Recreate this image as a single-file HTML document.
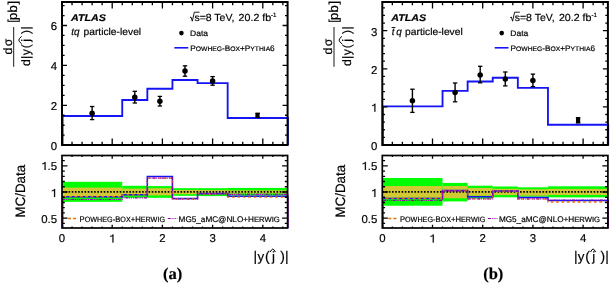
<!DOCTYPE html>
<html><head><meta charset="utf-8"><style>
html,body{margin:0;padding:0;background:#fff;}
svg{display:block;will-change:transform;}
text{font-family:"Liberation Sans", sans-serif;fill:#000;text-rendering:geometricPrecision;stroke:#000;stroke-width:0.18px;}
.tl{font-size:11.4px;}
.atlas{font-size:9.7px;font-weight:bold;font-style:italic;}
.lab{font-size:10px;}
.lab2{font-size:10.3px;}
.sup{font-size:6.1px;}
.leg{font-size:8px;}
.leg2{font-size:8.1px;}
.sc{font-size:6.6px;}
.sc2{font-size:7.6px;}
.xt{font-size:13.3px;}
.xt2{font-size:13.9px;}
.yt{font-size:12.2px;}
.yt2{font-size:13px;}
.sub{font-family:"Liberation Serif", serif;font-size:16.5px;font-weight:bold;}
</style></head>
<body><svg width="610" height="283" viewBox="0 0 610 283" xmlns="http://www.w3.org/2000/svg">
<rect width="610" height="283" fill="#fff"/>
<rect x="62" y="181.8" width="60.24" height="20" fill="#00ff00"/>
<rect x="62" y="187.6" width="60.24" height="8.6" fill="#d0c934"/>
<rect x="122.24" y="185.8" width="25.1" height="12" fill="#00ff00"/>
<rect x="122.24" y="188.6" width="25.1" height="6" fill="#d0c934"/>
<rect x="147.34" y="186.1" width="25.1" height="11.7" fill="#00ff00"/>
<rect x="147.34" y="188.2" width="25.1" height="7.2" fill="#d0c934"/>
<rect x="172.44" y="188.2" width="25.1" height="7.6" fill="#00ff00"/>
<rect x="172.44" y="190" width="25.1" height="4.2" fill="#d0c934"/>
<rect x="197.54" y="188.2" width="30.12" height="7.9" fill="#00ff00"/>
<rect x="197.54" y="190.1" width="30.12" height="3.5" fill="#d0c934"/>
<rect x="227.66" y="187.9" width="60.24" height="7.7" fill="#00ff00"/>
<rect x="227.66" y="190.4" width="60.24" height="3.1" fill="#d0c934"/>
<line x1="62.15" y1="191.9" x2="287.6" y2="191.9" stroke="#000" stroke-width="1.6" stroke-dasharray="1.6 1.6"/>
<path d="M62.6 228 L62.6 196.7 L62.6 196.7 L122.24 196.7 L122.24 194.8 L147.34 194.8 L147.34 176.4 L172.44 176.4 L172.44 198.5 L197.54 198.5 L197.54 193.6 L227.66 193.6 L227.66 196.3 L287.9 196.3 L287.9 228" fill="none" stroke="#1414f5" stroke-width="1.5"/>
<path d="M62.6 228 L62.6 196.7 L62.6 196.7 L122.24 196.7 L122.24 194.8 L147.34 194.8 L147.34 178.2 L172.44 178.2 L172.44 199 L197.54 199 L197.54 193.9 L227.66 193.9 L227.66 197.2 L287.9 197.2 L287.9 228" fill="none" stroke="#e8700c" stroke-width="1.3" stroke-dasharray="2.7 2.7"/>
<path d="M62.6 228 L62.6 199.5 L62.6 199.5 L122.24 199.5 L122.24 197.8 L147.34 197.8 L147.34 178.2 L172.44 178.2 L172.44 199 L197.54 199 L197.54 193.9 L227.66 193.9 L227.66 194.3 L287.9 194.3 L287.9 228" fill="none" stroke="#9a00b0" stroke-width="1.2" stroke-dasharray="3 0.9 0.9 0.9 0.9 0.9 0.9 0.9"/>
<path d="M62.6 145 L62.6 116 L62.6 116 L122.24 116 L122.24 100 L147.34 100 L147.34 88.7 L172.44 88.7 L172.44 80 L197.54 80 L197.54 83.1 L227.66 83.1 L227.66 118 L287.9 118 L287.9 145" fill="none" stroke="#1414f5" stroke-width="1.85"/>
<line x1="92.12" y1="106.5" x2="92.12" y2="119.6" stroke="#000" stroke-width="1.4"/>
<line x1="89.92" y1="106.5" x2="94.32" y2="106.5" stroke="#000" stroke-width="1.3"/>
<line x1="89.92" y1="119.6" x2="94.32" y2="119.6" stroke="#000" stroke-width="1.3"/>
<circle cx="92.12" cy="113.2" r="2.75" fill="#000"/>
<line x1="134.79" y1="91.3" x2="134.79" y2="103" stroke="#000" stroke-width="1.4"/>
<line x1="132.59" y1="91.3" x2="136.99" y2="91.3" stroke="#000" stroke-width="1.3"/>
<line x1="132.59" y1="103" x2="136.99" y2="103" stroke="#000" stroke-width="1.3"/>
<circle cx="134.79" cy="97.2" r="2.75" fill="#000"/>
<line x1="159.89" y1="96.4" x2="159.89" y2="106" stroke="#000" stroke-width="1.4"/>
<line x1="157.69" y1="96.4" x2="162.09" y2="96.4" stroke="#000" stroke-width="1.3"/>
<line x1="157.69" y1="106" x2="162.09" y2="106" stroke="#000" stroke-width="1.3"/>
<circle cx="159.89" cy="101.2" r="2.75" fill="#000"/>
<line x1="184.99" y1="65.8" x2="184.99" y2="76.2" stroke="#000" stroke-width="1.4"/>
<line x1="182.79" y1="65.8" x2="187.19" y2="65.8" stroke="#000" stroke-width="1.3"/>
<line x1="182.79" y1="76.2" x2="187.19" y2="76.2" stroke="#000" stroke-width="1.3"/>
<circle cx="184.99" cy="70.9" r="2.75" fill="#000"/>
<line x1="212.6" y1="76.6" x2="212.6" y2="85.2" stroke="#000" stroke-width="1.4"/>
<line x1="210.4" y1="76.6" x2="214.8" y2="76.6" stroke="#000" stroke-width="1.3"/>
<line x1="210.4" y1="85.2" x2="214.8" y2="85.2" stroke="#000" stroke-width="1.3"/>
<circle cx="212.6" cy="80.9" r="2.75" fill="#000"/>
<line x1="257.78" y1="113.4" x2="257.78" y2="117.4" stroke="#000" stroke-width="1.4"/>
<line x1="255.58" y1="113.4" x2="259.98" y2="113.4" stroke="#000" stroke-width="1.3"/>
<line x1="255.58" y1="117.4" x2="259.98" y2="117.4" stroke="#000" stroke-width="1.3"/>
<rect x="255.38" y="112.8" width="4.2" height="5.2" fill="#000"/>
<rect x="62" y="2" width="225.6" height="143" fill="none" stroke="#000" stroke-width="2"/>
<rect x="62" y="155.5" width="225.6" height="72.5" fill="none" stroke="#000" stroke-width="1.7"/>
<path d="M72.04 145 V141.8 M72.04 2 V5.2 M72.04 228 V226.4 M72.04 155.5 V157.1 M82.08 145 V141.8 M82.08 2 V5.2 M82.08 228 V226.4 M82.08 155.5 V157.1 M92.12 145 V141.8 M92.12 2 V5.2 M92.12 228 V226.4 M92.12 155.5 V157.1 M102.16 145 V141.8 M102.16 2 V5.2 M102.16 228 V226.4 M102.16 155.5 V157.1 M112.2 145 V138.5 M112.2 2 V8.5 M112.2 228 V224.8 M112.2 155.5 V158.7 M122.24 145 V141.8 M122.24 2 V5.2 M122.24 228 V226.4 M122.24 155.5 V157.1 M132.28 145 V141.8 M132.28 2 V5.2 M132.28 228 V226.4 M132.28 155.5 V157.1 M142.32 145 V141.8 M142.32 2 V5.2 M142.32 228 V226.4 M142.32 155.5 V157.1 M152.36 145 V141.8 M152.36 2 V5.2 M152.36 228 V226.4 M152.36 155.5 V157.1 M162.4 145 V138.5 M162.4 2 V8.5 M162.4 228 V224.8 M162.4 155.5 V158.7 M172.44 145 V141.8 M172.44 2 V5.2 M172.44 228 V226.4 M172.44 155.5 V157.1 M182.48 145 V141.8 M182.48 2 V5.2 M182.48 228 V226.4 M182.48 155.5 V157.1 M192.52 145 V141.8 M192.52 2 V5.2 M192.52 228 V226.4 M192.52 155.5 V157.1 M202.56 145 V141.8 M202.56 2 V5.2 M202.56 228 V226.4 M202.56 155.5 V157.1 M212.6 145 V138.5 M212.6 2 V8.5 M212.6 228 V224.8 M212.6 155.5 V158.7 M222.64 145 V141.8 M222.64 2 V5.2 M222.64 228 V226.4 M222.64 155.5 V157.1 M232.68 145 V141.8 M232.68 2 V5.2 M232.68 228 V226.4 M232.68 155.5 V157.1 M242.72 145 V141.8 M242.72 2 V5.2 M242.72 228 V226.4 M242.72 155.5 V157.1 M252.76 145 V141.8 M252.76 2 V5.2 M252.76 228 V226.4 M252.76 155.5 V157.1 M262.8 145 V138.5 M262.8 2 V8.5 M262.8 228 V224.8 M262.8 155.5 V158.7 M272.84 145 V141.8 M272.84 2 V5.2 M272.84 228 V226.4 M272.84 155.5 V157.1 M282.88 145 V141.8 M282.88 2 V5.2 M282.88 228 V226.4 M282.88 155.5 V157.1 M62 135.22 H64.6 M287.6 135.22 H285 M62 125.25 H64.6 M287.6 125.25 H285 M62 115.27 H64.6 M287.6 115.27 H285 M62 105.3 H67 M287.6 105.3 H282.6 M62 95.32 H64.6 M287.6 95.32 H285 M62 85.35 H64.6 M287.6 85.35 H285 M62 75.37 H64.6 M287.6 75.37 H285 M62 65.4 H67 M287.6 65.4 H282.6 M62 55.42 H64.6 M287.6 55.42 H285 M62 45.45 H64.6 M287.6 45.45 H285 M62 35.47 H64.6 M287.6 35.47 H285 M62 25.5 H67 M287.6 25.5 H282.6 M62 15.53 H64.6 M287.6 15.53 H285 M62 5.55 H64.6 M287.6 5.55 H285 M62 223.44 H64.8 M287.6 223.44 H284.8 M62 218.2 H67.5 M287.6 218.2 H282.1 M62 212.96 H64.8 M287.6 212.96 H284.8 M62 207.72 H64.8 M287.6 207.72 H284.8 M62 202.48 H64.8 M287.6 202.48 H284.8 M62 197.24 H64.8 M287.6 197.24 H284.8 M62 192 H67.5 M287.6 192 H282.1 M62 186.76 H64.8 M287.6 186.76 H284.8 M62 181.52 H64.8 M287.6 181.52 H284.8 M62 176.28 H64.8 M287.6 176.28 H284.8 M62 171.04 H64.8 M287.6 171.04 H284.8 M62 165.8 H67.5 M287.6 165.8 H282.1 M62 160.56 H64.8 M287.6 160.56 H284.8" fill="none" stroke="#000" stroke-width="1.3"/>
<text x="50.66" y="110.1" class="tl">2</text>
<text x="50.66" y="70.2" class="tl">4</text>
<text x="50.66" y="30.3" class="tl">6</text>
<path d="M45.59 169.9 L45.59 161.89 L44.78 161.89 Q44.46 163.06 42.29 163.46 L42.29 164.26 Q43.89 164.14 44.54 163.57 L44.54 169.9Z" fill="#000" stroke="#000" stroke-width="0.18"/>
<text x="47.49" y="169.9" class="tl">.</text>
<text x="50.66" y="169.9" class="tl">5</text>
<path d="M55.1 196.9 L55.1 188.89 L54.29 188.89 Q53.97 190.06 51.8 190.46 L51.8 191.26 Q53.4 191.14 54.05 190.57 L54.05 196.9Z" fill="#000" stroke="#000" stroke-width="0.18"/>
<text x="41.15" y="223.2" class="tl">0</text>
<text x="47.49" y="223.2" class="tl">.</text>
<text x="50.66" y="223.2" class="tl">5</text>
<text x="50.66" y="149.5" class="tl">0</text>
<text x="58.83" y="242.4" class="tl">0</text>
<path d="M113.47 242.4 L113.47 234.39 L112.66 234.39 Q112.34 235.56 110.17 235.96 L110.17 236.76 Q111.77 236.64 112.42 236.07 L112.42 242.4Z" fill="#000" stroke="#000" stroke-width="0.18"/>
<text x="159.23" y="242.4" class="tl">2</text>
<text x="209.43" y="242.4" class="tl">3</text>
<text x="259.63" y="242.4" class="tl">4</text>
<text x="71" y="20.7" class="atlas" textLength="35" lengthAdjust="spacingAndGlyphs">ATLAS</text>
<text x="71.25" y="35.4" class="lab" font-style="italic">tq</text>
<text x="83.46" y="35.4" class="lab" textLength="57.7" lengthAdjust="spacingAndGlyphs">particle-level</text>
<path d="M189.9 17.6 L191 17.0 L192.3 21.2 L194.3 12.2 H199.5" fill="none" stroke="#000" stroke-width="0.9"/>
<text x="194.4" y="21" class="lab2" textLength="40" lengthAdjust="spacingAndGlyphs">s=8 TeV,</text>
<text x="238.6" y="21" class="lab2" textLength="32.6" lengthAdjust="spacingAndGlyphs">20.2 fb</text>
<text x="271.1" y="17" class="sup">-1</text>
<circle cx="181.4" cy="33.1" r="2.3" fill="#000"/>
<text x="190" y="35.6" class="leg" textLength="18" lengthAdjust="spacingAndGlyphs">Data</text>
<line x1="174.4" y1="47.8" x2="188.2" y2="47.8" stroke="#1414f5" stroke-width="1.6"/>
<text x="190.3" y="50.6" class="leg" textLength="84.4" lengthAdjust="spacingAndGlyphs">P<tspan class="sc">OWHEG</tspan>-B<tspan class="sc">OX</tspan>+P<tspan class="sc">YTHIA</tspan>6</text>
<line x1="67" y1="218.5" x2="77.2" y2="218.5" stroke="#e8700c" stroke-width="1.3" stroke-dasharray="3 2.1" stroke-dashoffset="-1"/>
<text x="79.6" y="221.7" class="leg2" textLength="85.4" lengthAdjust="spacingAndGlyphs">P<tspan class="sc2">OWHEG</tspan>-B<tspan class="sc2">OX</tspan>+H<tspan class="sc2">ERWIG</tspan></text>
<line x1="167.7" y1="218.5" x2="177.4" y2="218.5" stroke="#9a00b0" stroke-width="1.2" stroke-dasharray="3 0.9 0.9 0.9 0.9 0.9 0.9 0.9"/>
<text x="178.6" y="221.7" class="leg2" textLength="101.2" lengthAdjust="spacingAndGlyphs">MG5_aMC@NLO+H<tspan class="sc2">ERWIG</tspan></text>
<text x="255.4" y="261.2" text-anchor="middle" class="xt2">|</text>
<text x="260.9" y="261.2" text-anchor="middle" class="xt">y</text>
<text x="267.3" y="261.2" text-anchor="middle" class="xt2">(</text>
<text x="273.4" y="261.2" text-anchor="middle" class="xt">j</text>
<text x="282.5" y="261.2" text-anchor="middle" class="xt2">)</text>
<text x="286.8" y="261.2" text-anchor="middle" class="xt2">|</text>
<path d="M270.2 252.1 Q271.8 249.0 272.8 249.0 Q273.8 249.0 275.4 252.1" fill="none" stroke="#000" stroke-width="1.0"/>
<text transform="translate(24.9,191.2) rotate(-90)" x="-26.25" style="font-size:13.7px" textLength="52.5" lengthAdjust="spacingAndGlyphs">MC/Data</text>
<line x1="13.7" y1="27" x2="13.7" y2="66.8" stroke="#000" stroke-width="0.9"/>
<g transform="translate(0,0) rotate(-90)">
<text x="-51.2" y="12.2" text-anchor="middle" class="yt">d</text>
<text x="-42.4" y="12.2" text-anchor="middle" class="yt">σ</text>
<text x="-62.5" y="30.4" text-anchor="middle" class="yt">d</text>
<text x="-57.4" y="30.4" text-anchor="middle" class="yt">|</text>
<text x="-52.3" y="30.4" text-anchor="middle" class="yt">y</text>
<text x="-46.3" y="30.4" text-anchor="middle" class="yt">(</text>
<text x="-40.4" y="30.4" text-anchor="middle" class="yt">j</text>
<text x="-31.9" y="30.4" text-anchor="middle" class="yt">)</text>
<text x="-27.8" y="30.4" text-anchor="middle" class="yt">|</text>
<text x="-2.75" y="17.3" text-anchor="middle" class="yt2">]</text>
<text x="-8.9" y="17.3" text-anchor="middle" class="yt2">b</text>
<text x="-16.4" y="17.3" text-anchor="middle" class="yt2">p</text>
<text x="-21" y="17.3" text-anchor="middle" class="yt2">[</text>
</g>
<path d="M21.7 36.3 Q18.8 38.6 18.8 40.1 Q18.8 41.6 21.7 43.9" fill="none" stroke="#000" stroke-width="1.0"/>
<text x="162.9" y="279.4" class="sub">(a)</text>
<rect x="382.3" y="178" width="60.24" height="27.7" fill="#00ff00"/>
<rect x="382.3" y="186" width="60.24" height="11.8" fill="#d0c934"/>
<rect x="442.54" y="182.9" width="25.1" height="18.5" fill="#00ff00"/>
<rect x="442.54" y="186" width="25.1" height="12.3" fill="#d0c934"/>
<rect x="467.64" y="185.7" width="25.1" height="12.8" fill="#00ff00"/>
<rect x="467.64" y="188" width="25.1" height="7.8" fill="#d0c934"/>
<rect x="492.74" y="186.5" width="25.1" height="10.8" fill="#00ff00"/>
<rect x="492.74" y="188.8" width="25.1" height="6.3" fill="#d0c934"/>
<rect x="517.84" y="187.3" width="30.12" height="9.4" fill="#00ff00"/>
<rect x="517.84" y="189.3" width="30.12" height="6.4" fill="#d0c934"/>
<rect x="547.96" y="186.3" width="60.24" height="11.1" fill="#00ff00"/>
<rect x="547.96" y="188.9" width="60.24" height="6.1" fill="#d0c934"/>
<line x1="382.45" y1="191.9" x2="607.9" y2="191.9" stroke="#000" stroke-width="1.6" stroke-dasharray="1.6 1.6"/>
<path d="M382.9 228 L382.9 198.5 L382.9 198.5 L442.54 198.5 L442.54 190.6 L467.64 190.6 L467.64 196.8 L492.74 196.8 L492.74 190.9 L517.84 190.9 L517.84 197.4 L547.96 197.4 L547.96 200.6 L608.2 200.6 L608.2 228" fill="none" stroke="#1414f5" stroke-width="1.5"/>
<path d="M382.9 228 L382.9 198.5 L382.9 198.5 L442.54 198.5 L442.54 190.6 L467.64 190.6 L467.64 198.8 L492.74 198.8 L492.74 191 L517.84 191 L517.84 198.9 L547.96 198.9 L547.96 202 L608.2 202 L608.2 228" fill="none" stroke="#e8700c" stroke-width="1.3" stroke-dasharray="2.7 2.7"/>
<path d="M382.9 228 L382.9 200.5 L382.9 200.5 L442.54 200.5 L442.54 190.8 L467.64 190.8 L467.64 198.8 L492.74 198.8 L492.74 191 L517.84 191 L517.84 198.9 L547.96 198.9 L547.96 200 L608.2 200 L608.2 228" fill="none" stroke="#9a00b0" stroke-width="1.2" stroke-dasharray="3 0.9 0.9 0.9 0.9 0.9 0.9 0.9"/>
<path d="M382.9 145 L382.9 106.35 L382.9 106.35 L442.54 106.35 L442.54 90.8 L467.64 90.8 L467.64 81.45 L492.74 81.45 L492.74 77.7 L517.84 77.7 L517.84 87.9 L547.96 87.9 L547.96 124.7 L608.2 124.7 L608.2 145" fill="none" stroke="#1414f5" stroke-width="1.85"/>
<line x1="412.42" y1="89.2" x2="412.42" y2="112.4" stroke="#000" stroke-width="1.4"/>
<line x1="410.22" y1="89.2" x2="414.62" y2="89.2" stroke="#000" stroke-width="1.3"/>
<line x1="410.22" y1="112.4" x2="414.62" y2="112.4" stroke="#000" stroke-width="1.3"/>
<circle cx="412.42" cy="100.7" r="2.75" fill="#000"/>
<line x1="455.09" y1="83" x2="455.09" y2="101.8" stroke="#000" stroke-width="1.4"/>
<line x1="452.89" y1="83" x2="457.29" y2="83" stroke="#000" stroke-width="1.3"/>
<line x1="452.89" y1="101.8" x2="457.29" y2="101.8" stroke="#000" stroke-width="1.3"/>
<circle cx="455.09" cy="92.4" r="2.75" fill="#000"/>
<line x1="480.19" y1="66.3" x2="480.19" y2="82.8" stroke="#000" stroke-width="1.4"/>
<line x1="477.99" y1="66.3" x2="482.39" y2="66.3" stroke="#000" stroke-width="1.3"/>
<line x1="477.99" y1="82.8" x2="482.39" y2="82.8" stroke="#000" stroke-width="1.3"/>
<circle cx="480.19" cy="74.9" r="2.75" fill="#000"/>
<line x1="505.29" y1="72" x2="505.29" y2="85.9" stroke="#000" stroke-width="1.4"/>
<line x1="503.09" y1="72" x2="507.49" y2="72" stroke="#000" stroke-width="1.3"/>
<line x1="503.09" y1="85.9" x2="507.49" y2="85.9" stroke="#000" stroke-width="1.3"/>
<circle cx="505.29" cy="79.1" r="2.75" fill="#000"/>
<line x1="532.9" y1="74.1" x2="532.9" y2="86.6" stroke="#000" stroke-width="1.4"/>
<line x1="530.7" y1="74.1" x2="535.1" y2="74.1" stroke="#000" stroke-width="1.3"/>
<line x1="530.7" y1="86.6" x2="535.1" y2="86.6" stroke="#000" stroke-width="1.3"/>
<circle cx="532.9" cy="80.5" r="2.75" fill="#000"/>
<line x1="578.08" y1="117.8" x2="578.08" y2="122.7" stroke="#000" stroke-width="1.4"/>
<line x1="575.88" y1="117.8" x2="580.28" y2="117.8" stroke="#000" stroke-width="1.3"/>
<line x1="575.88" y1="122.7" x2="580.28" y2="122.7" stroke="#000" stroke-width="1.3"/>
<rect x="575.98" y="117.2" width="4.2" height="6.1" fill="#000"/>
<rect x="382.3" y="2" width="225.6" height="143" fill="none" stroke="#000" stroke-width="2"/>
<rect x="382.3" y="155.5" width="225.6" height="72.5" fill="none" stroke="#000" stroke-width="1.7"/>
<path d="M392.34 145 V141.8 M392.34 2 V5.2 M392.34 228 V226.4 M392.34 155.5 V157.1 M402.38 145 V141.8 M402.38 2 V5.2 M402.38 228 V226.4 M402.38 155.5 V157.1 M412.42 145 V141.8 M412.42 2 V5.2 M412.42 228 V226.4 M412.42 155.5 V157.1 M422.46 145 V141.8 M422.46 2 V5.2 M422.46 228 V226.4 M422.46 155.5 V157.1 M432.5 145 V138.5 M432.5 2 V8.5 M432.5 228 V224.8 M432.5 155.5 V158.7 M442.54 145 V141.8 M442.54 2 V5.2 M442.54 228 V226.4 M442.54 155.5 V157.1 M452.58 145 V141.8 M452.58 2 V5.2 M452.58 228 V226.4 M452.58 155.5 V157.1 M462.62 145 V141.8 M462.62 2 V5.2 M462.62 228 V226.4 M462.62 155.5 V157.1 M472.66 145 V141.8 M472.66 2 V5.2 M472.66 228 V226.4 M472.66 155.5 V157.1 M482.7 145 V138.5 M482.7 2 V8.5 M482.7 228 V224.8 M482.7 155.5 V158.7 M492.74 145 V141.8 M492.74 2 V5.2 M492.74 228 V226.4 M492.74 155.5 V157.1 M502.78 145 V141.8 M502.78 2 V5.2 M502.78 228 V226.4 M502.78 155.5 V157.1 M512.82 145 V141.8 M512.82 2 V5.2 M512.82 228 V226.4 M512.82 155.5 V157.1 M522.86 145 V141.8 M522.86 2 V5.2 M522.86 228 V226.4 M522.86 155.5 V157.1 M532.9 145 V138.5 M532.9 2 V8.5 M532.9 228 V224.8 M532.9 155.5 V158.7 M542.94 145 V141.8 M542.94 2 V5.2 M542.94 228 V226.4 M542.94 155.5 V157.1 M552.98 145 V141.8 M552.98 2 V5.2 M552.98 228 V226.4 M552.98 155.5 V157.1 M563.02 145 V141.8 M563.02 2 V5.2 M563.02 228 V226.4 M563.02 155.5 V157.1 M573.06 145 V141.8 M573.06 2 V5.2 M573.06 228 V226.4 M573.06 155.5 V157.1 M583.1 145 V138.5 M583.1 2 V8.5 M583.1 228 V224.8 M583.1 155.5 V158.7 M593.14 145 V141.8 M593.14 2 V5.2 M593.14 228 V226.4 M593.14 155.5 V157.1 M603.18 145 V141.8 M603.18 2 V5.2 M603.18 228 V226.4 M603.18 155.5 V157.1 M382.3 137.38 H384.9 M607.9 137.38 H605.3 M382.3 129.76 H384.9 M607.9 129.76 H605.3 M382.3 122.14 H384.9 M607.9 122.14 H605.3 M382.3 114.52 H384.9 M607.9 114.52 H605.3 M382.3 106.9 H387.3 M607.9 106.9 H602.9 M382.3 99.28 H384.9 M607.9 99.28 H605.3 M382.3 91.66 H384.9 M607.9 91.66 H605.3 M382.3 84.04 H384.9 M607.9 84.04 H605.3 M382.3 76.42 H384.9 M607.9 76.42 H605.3 M382.3 68.8 H387.3 M607.9 68.8 H602.9 M382.3 61.18 H384.9 M607.9 61.18 H605.3 M382.3 53.56 H384.9 M607.9 53.56 H605.3 M382.3 45.94 H384.9 M607.9 45.94 H605.3 M382.3 38.32 H384.9 M607.9 38.32 H605.3 M382.3 30.7 H387.3 M607.9 30.7 H602.9 M382.3 23.08 H384.9 M607.9 23.08 H605.3 M382.3 15.46 H384.9 M607.9 15.46 H605.3 M382.3 7.84 H384.9 M607.9 7.84 H605.3 M382.3 223.44 H385.1 M607.9 223.44 H605.1 M382.3 218.2 H387.8 M607.9 218.2 H602.4 M382.3 212.96 H385.1 M607.9 212.96 H605.1 M382.3 207.72 H385.1 M607.9 207.72 H605.1 M382.3 202.48 H385.1 M607.9 202.48 H605.1 M382.3 197.24 H385.1 M607.9 197.24 H605.1 M382.3 192 H387.8 M607.9 192 H602.4 M382.3 186.76 H385.1 M607.9 186.76 H605.1 M382.3 181.52 H385.1 M607.9 181.52 H605.1 M382.3 176.28 H385.1 M607.9 176.28 H605.1 M382.3 171.04 H385.1 M607.9 171.04 H605.1 M382.3 165.8 H387.8 M607.9 165.8 H602.4 M382.3 160.56 H385.1 M607.9 160.56 H605.1" fill="none" stroke="#000" stroke-width="1.3"/>
<path d="M375.4 111.7 L375.4 103.69 L374.59 103.69 Q374.27 104.86 372.1 105.26 L372.1 106.06 Q373.7 105.94 374.35 105.37 L374.35 111.7Z" fill="#000" stroke="#000" stroke-width="0.18"/>
<text x="370.96" y="73.6" class="tl">2</text>
<text x="370.96" y="35.5" class="tl">3</text>
<path d="M365.89 169.9 L365.89 161.89 L365.08 161.89 Q364.76 163.06 362.59 163.46 L362.59 164.26 Q364.19 164.14 364.84 163.57 L364.84 169.9Z" fill="#000" stroke="#000" stroke-width="0.18"/>
<text x="367.79" y="169.9" class="tl">.</text>
<text x="370.96" y="169.9" class="tl">5</text>
<path d="M375.4 196.9 L375.4 188.89 L374.59 188.89 Q374.27 190.06 372.1 190.46 L372.1 191.26 Q373.7 191.14 374.35 190.57 L374.35 196.9Z" fill="#000" stroke="#000" stroke-width="0.18"/>
<text x="361.45" y="223.2" class="tl">0</text>
<text x="367.79" y="223.2" class="tl">.</text>
<text x="370.96" y="223.2" class="tl">5</text>
<text x="370.96" y="149.5" class="tl">0</text>
<text x="379.13" y="242.4" class="tl">0</text>
<path d="M433.77 242.4 L433.77 234.39 L432.96 234.39 Q432.64 235.56 430.47 235.96 L430.47 236.76 Q432.07 236.64 432.72 236.07 L432.72 242.4Z" fill="#000" stroke="#000" stroke-width="0.18"/>
<text x="479.53" y="242.4" class="tl">2</text>
<text x="529.73" y="242.4" class="tl">3</text>
<text x="579.93" y="242.4" class="tl">4</text>
<text x="391.3" y="20.7" class="atlas" textLength="35" lengthAdjust="spacingAndGlyphs">ATLAS</text>
<text x="391.85" y="35.4" class="lab" font-style="italic">t</text>
<text x="396.3" y="35.4" class="lab" font-style="italic">q</text>
<line x1="391.6" y1="27.5" x2="395.4" y2="27.5" stroke="#000" stroke-width="0.9"/>
<text x="405.06" y="35.4" class="lab" textLength="57.7" lengthAdjust="spacingAndGlyphs">particle-level</text>
<path d="M510.2 17.6 L511.3 17.0 L512.6 21.2 L514.6 12.2 H519.8" fill="none" stroke="#000" stroke-width="0.9"/>
<text x="514.7" y="21" class="lab2" textLength="40" lengthAdjust="spacingAndGlyphs">s=8 TeV,</text>
<text x="558.9" y="21" class="lab2" textLength="32.6" lengthAdjust="spacingAndGlyphs">20.2 fb</text>
<text x="591.4" y="17" class="sup">-1</text>
<circle cx="501.7" cy="33.1" r="2.3" fill="#000"/>
<text x="510.3" y="35.6" class="leg" textLength="18" lengthAdjust="spacingAndGlyphs">Data</text>
<line x1="494.7" y1="47.8" x2="508.5" y2="47.8" stroke="#1414f5" stroke-width="1.6"/>
<text x="510.6" y="50.6" class="leg" textLength="84.4" lengthAdjust="spacingAndGlyphs">P<tspan class="sc">OWHEG</tspan>-B<tspan class="sc">OX</tspan>+P<tspan class="sc">YTHIA</tspan>6</text>
<line x1="387.3" y1="218.5" x2="397.5" y2="218.5" stroke="#e8700c" stroke-width="1.3" stroke-dasharray="3 2.1" stroke-dashoffset="-1"/>
<text x="399.9" y="221.7" class="leg2" textLength="85.4" lengthAdjust="spacingAndGlyphs">P<tspan class="sc2">OWHEG</tspan>-B<tspan class="sc2">OX</tspan>+H<tspan class="sc2">ERWIG</tspan></text>
<line x1="488" y1="218.5" x2="497.7" y2="218.5" stroke="#9a00b0" stroke-width="1.2" stroke-dasharray="3 0.9 0.9 0.9 0.9 0.9 0.9 0.9"/>
<text x="498.9" y="221.7" class="leg2" textLength="101.2" lengthAdjust="spacingAndGlyphs">MG5_aMC@NLO+H<tspan class="sc2">ERWIG</tspan></text>
<text x="575.7" y="261.2" text-anchor="middle" class="xt2">|</text>
<text x="581.2" y="261.2" text-anchor="middle" class="xt">y</text>
<text x="587.6" y="261.2" text-anchor="middle" class="xt2">(</text>
<text x="593.7" y="261.2" text-anchor="middle" class="xt">j</text>
<text x="602.8" y="261.2" text-anchor="middle" class="xt2">)</text>
<text x="607.1" y="261.2" text-anchor="middle" class="xt2">|</text>
<path d="M590.5 252.1 Q592.1 249.0 593.1 249.0 Q594.1 249.0 595.7 252.1" fill="none" stroke="#000" stroke-width="1.0"/>
<text transform="translate(345.2,191.2) rotate(-90)" x="-26.25" style="font-size:13.7px" textLength="52.5" lengthAdjust="spacingAndGlyphs">MC/Data</text>
<line x1="334" y1="27" x2="334" y2="66.8" stroke="#000" stroke-width="0.9"/>
<g transform="translate(320.3,0) rotate(-90)">
<text x="-51.2" y="12.2" text-anchor="middle" class="yt">d</text>
<text x="-42.4" y="12.2" text-anchor="middle" class="yt">σ</text>
<text x="-62.5" y="30.4" text-anchor="middle" class="yt">d</text>
<text x="-57.4" y="30.4" text-anchor="middle" class="yt">|</text>
<text x="-52.3" y="30.4" text-anchor="middle" class="yt">y</text>
<text x="-46.3" y="30.4" text-anchor="middle" class="yt">(</text>
<text x="-40.4" y="30.4" text-anchor="middle" class="yt">j</text>
<text x="-31.9" y="30.4" text-anchor="middle" class="yt">)</text>
<text x="-27.8" y="30.4" text-anchor="middle" class="yt">|</text>
<text x="-2.75" y="17.3" text-anchor="middle" class="yt2">]</text>
<text x="-8.9" y="17.3" text-anchor="middle" class="yt2">b</text>
<text x="-16.4" y="17.3" text-anchor="middle" class="yt2">p</text>
<text x="-21" y="17.3" text-anchor="middle" class="yt2">[</text>
</g>
<path d="M342 36.3 Q339.1 38.6 339.1 40.1 Q339.1 41.6 342 43.9" fill="none" stroke="#000" stroke-width="1.0"/>
<text x="483.2" y="279.4" class="sub">(b)</text>
</svg></body></html>
